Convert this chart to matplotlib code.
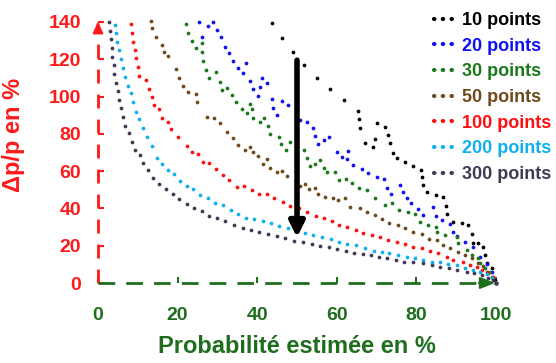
import matplotlib
matplotlib.use('Agg')
import matplotlib.pyplot as plt
from matplotlib.lines import Line2D

plt.rcParams['font.family'] = ['Liberation Sans', 'DejaVu Sans']
plt.rcParams['font.weight'] = 'bold'

# values (x = probabilité %, y = dp/p %)
x10 = [43.6, 46.2, 48.9, 51.8, 55.0, 58.3, 61.8, 65.3, 65.6, 65.8, 67.1, 69.0, 69.6, 70.2, 72.1,
       72.9, 73.4, 74.0, 75.0, 77.1, 79.1, 81.2, 81.5, 81.7, 82.7, 84.9, 86.8, 87.4, 87.8, 89.3,
       91.4, 93.0, 93.9, 94.3, 95.6, 96.8, 97.2, 97.7, 98.9, 99.7, 100]
y10 = [139.3, 131.3, 124.1, 117.0, 110.1, 104.1, 98.2, 92.4, 87.8, 83.0, 75.3, 73.1, 77.1, 85.7, 83.5,
       79.4, 74.9, 69.9, 66.9, 64.8, 62.9, 60.6, 57.0, 52.6, 49.0, 47.2, 46.3, 41.5, 37.0, 32.9,
       32.0, 31.1, 26.1, 21.6, 21.3, 19.5, 15.0, 10.6, 7.9, 1.6, 0]

x20 = [25.5, 26.1, 27.7, 29.0, 30.0, 30.9, 31.9, 33.0, 34.0, 35.3, 36.4, 37.2, 38.2, 38.9, 40.3,
       40.7, 41.1, 42.4, 43.6, 44.0, 44.9, 46.2, 47.8, 50.8, 52.4, 54.1, 54.5, 55.3, 56.8, 58.0,
       60.0, 61.2, 62.9, 62.6, 64.1, 66.3, 67.9, 70.0, 71.9, 72.5, 73.7, 75.9, 76.6, 77.6, 78.6,
       80.5, 81.7, 84.1, 84.9, 86.4, 88.4, 89.1, 90.1, 92.2, 94.3, 96.0, 97.7, 99.1, 100]
y20 = [140.2, 132.1, 137.9, 140.2, 135.7, 131.8, 126.8, 123.2, 119.1, 115.2, 112.5, 118.0, 108.5, 104.1, 100.5,
       105.0, 109.8, 107.1, 98.7, 94.0, 90.1, 97.8, 95.5, 87.4, 86.5, 83.4, 78.9, 74.6, 76.7, 78.2,
       70.4, 67.8, 71.0, 66.4, 63.3, 61.2, 59.0, 57.0, 55.6, 51.0, 48.0, 52.6, 48.6, 45.4, 42.8,
       39.7, 36.5, 40.6, 36.1, 33.8, 31.7, 27.5, 25.4, 22.2, 19.3, 14.1, 10.2, 6.1, 0]

x30 = [22.1, 22.7, 23.5, 24.6, 26.1, 26.1, 26.5, 27.1, 28.0, 29.6, 30.7, 31.1, 32.3, 33.6, 34.7,
       36.1, 37.4, 38.2, 38.6, 39.0, 40.7, 41.8, 42.6, 43.2, 45.6, 46.0, 47.2, 48.2, 51.8, 52.6,
       53.3, 54.5, 55.8, 56.8, 57.6, 59.5, 60.6, 62.3, 63.7, 65.7, 67.5, 69.6, 72.1, 73.8, 75.7,
       78.0, 79.6, 80.9, 83.0, 84.9, 85.3, 87.2, 90.1, 90.5, 92.6, 93.9, 95.6, 96.0, 97.2, 98.5,
       99.3, 100]
y30 = [139.0, 134.3, 130.0, 125.9, 128.6, 124.1, 119.1, 114.3, 109.8, 113.0, 108.0, 103.5, 104.5, 100.9, 96.9,
       93.2, 91.0, 95.9, 93.3, 88.7, 86.5, 88.7, 84.4, 79.9, 78.5, 74.6, 71.4, 75.8, 71.4, 67.2,
       62.9, 63.7, 66.0, 61.5, 59.4, 59.7, 55.3, 55.8, 53.5, 51.1, 49.9, 45.6, 41.8, 42.8, 39.2,
       38.3, 36.9, 32.9, 31.1, 30.2, 27.2, 25.8, 24.8, 21.3, 17.7, 15.0, 13.3, 10.6, 7.9, 6.1,
       2.5, 0]

x50 = [13.3, 13.5, 14.6, 16.0, 16.6, 17.6, 19.6, 20.4, 21.3, 22.6, 24.6, 24.9, 27.3, 29.1, 30.7,
       32.3, 33.8, 35.3, 36.9, 38.2, 39.0, 40.3, 42.4, 41.4, 43.2, 44.9, 46.2, 47.6, 50.8, 52.0,
       53.1, 54.5, 55.4, 57.0, 59.1, 60.4, 62.1, 63.3, 65.8, 67.5, 69.6, 71.3, 73.2, 75.5, 77.1,
       79.2, 81.3, 83.2, 85.3, 86.8, 88.4, 90.5, 92.2, 93.9, 95.6, 96.8, 97.8, 98.9, 100]
y50 = [140.3, 136.6, 132.0, 127.7, 123.8, 121.8, 114.8, 110.1, 105.8, 102.5, 101.2, 97.3, 89.2, 88.5, 85.7,
       81.2, 77.6, 74.0, 71.4, 73.1, 70.1, 68.3, 66.5, 63.7, 61.9, 59.7, 60.2, 57.4, 52.2, 52.9,
       50.3, 51.1, 47.6, 46.0, 45.8, 44.5, 45.4, 40.9, 40.1, 38.3, 36.5, 34.3, 32.0, 31.1, 29.7,
       27.2, 26.1, 23.6, 23.1, 20.4, 18.9, 16.8, 15.0, 13.3, 10.6, 9.3, 6.1, 3.4, 0]

x100 = [8.2, 8.5, 8.8, 9.2, 9.5, 10.0, 10.4, 12.1, 12.8, 13.5, 14.1, 15.4, 16.1, 17.7, 18.3,
        20.2, 22.3, 23.5, 25.1, 26.5, 28.0, 29.6, 31.3, 32.9, 34.8, 36.7, 38.6, 40.5, 42.4, 44.3,
        46.4, 48.2, 50.6, 52.6, 54.7, 56.8, 58.7, 60.6, 62.6, 64.7, 66.7, 68.8, 70.9, 72.9, 75.0,
        77.1, 79.2, 81.3, 83.4, 85.5, 87.6, 89.3, 91.8, 93.5, 95.2, 96.4, 98.1, 99.3, 100]
y100 = [138.9, 134.1, 129.5, 125.0, 120.5, 115.7, 110.8, 108.9, 104.0, 99.8, 95.5, 93.2, 88.7, 86.5, 82.6,
        78.4, 73.5, 70.4, 69.2, 65.1, 64.2, 60.9, 57.9, 55.0, 51.7, 52.0, 49.9, 47.7, 47.6, 45.4,
        43.3, 41.5, 40.1, 37.9, 36.1, 35.0, 33.3, 31.1, 29.9, 28.6, 26.7, 25.8, 24.8, 23.1, 21.8,
        20.8, 19.5, 18.6, 17.2, 15.9, 14.1, 12.3, 11.4, 9.7, 8.7, 7.0, 5.2, 3.4, 0]

x200 = [4.3, 4.5, 4.8, 5.3, 5.7, 6.2, 6.8, 7.5, 8.2, 8.7, 9.5, 10.4, 11.2, 12.4, 13.6,
        14.8, 16.1, 17.5, 19.1, 20.6, 22.3, 23.9, 25.6, 27.6, 29.4, 31.3, 33.3, 35.3, 37.2, 39.3,
        41.4, 43.5, 45.6, 47.8, 50.1, 52.0, 54.1, 56.2, 58.5, 60.6, 62.6, 64.7, 67.1, 69.3, 71.3,
        73.2, 75.5, 77.6, 79.6, 81.7, 83.8, 85.9, 88.0, 90.1, 92.2, 94.3, 96.0, 97.7, 98.9, 100]
y200 = [138.4, 134.0, 129.5, 125.0, 120.0, 115.2, 110.4, 105.7, 101.8, 97.3, 91.9, 87.8, 83.0, 78.5, 73.5,
        67.2, 63.7, 60.6, 58.3, 54.7, 52.0, 50.3, 47.2, 45.8, 43.1, 41.6, 39.2, 36.9, 35.0, 34.3,
        33.4, 32.0, 30.6, 29.3, 28.4, 26.7, 25.8, 24.8, 23.4, 22.2, 20.9, 20.2, 18.6, 17.2, 16.5,
        15.9, 15.0, 14.1, 13.3, 12.3, 11.4, 11.1, 10.0, 9.7, 7.9, 7.0, 6.1, 4.7, 2.8, 0]

x300 = [2.8, 3.0, 3.3, 3.4, 3.6, 3.9, 4.1, 4.5, 4.9, 5.4, 5.9, 6.4, 6.9, 7.9, 8.5,
        9.2, 10.6, 11.2, 12.6, 13.9, 15.4, 17.1, 18.8, 20.4, 22.3, 24.1, 26.1, 28.0, 30.0, 32.0,
        34.2, 36.4, 38.4, 40.5, 42.8, 44.9, 47.0, 49.2, 51.6, 53.7, 55.8, 58.0, 60.1, 62.3, 64.2,
        66.5, 68.5, 70.7, 72.7, 74.9, 77.0, 79.2, 81.6, 83.8, 85.9, 88.3, 90.3, 92.6, 94.5, 96.4,
        98.1, 99.3, 100]
y300 = [140.2, 135.2, 130.7, 125.9, 121.4, 116.7, 112.1, 107.3, 103.0, 98.3, 93.7, 89.1, 84.2, 80.3, 75.8,
        71.6, 68.7, 64.2, 60.6, 56.5, 53.0, 50.3, 47.7, 44.9, 42.2, 40.4, 38.8, 35.9, 34.7, 33.3,
        31.1, 29.3, 28.4, 27.2, 26.1, 25.4, 24.0, 22.7, 21.8, 20.9, 20.0, 19.5, 18.2, 17.2, 16.2,
        15.4, 15.0, 14.1, 13.3, 12.3, 11.4, 11.1, 10.6, 9.7, 8.7, 7.9, 7.0, 6.1, 5.2, 4.3,
        2.8, 1.6, 0]

labels = ['10 points', '20 points', '30 points', '50 points', '100 points', '200 points', '300 points']
colors = ['#000000', '#1010f0', '#1a7a1a', '#6e4a1c', '#ff1010', '#10b0ee', '#403a55']
series = [(x10, y10), (x20, y20), (x30, y30), (x50, y50), (x100, y100), (x200, y200), (x300, y300)]

xticks = [0, 20, 40, 60, 80, 100]
yticks = [0, 20, 40, 60, 80, 100, 120, 140]

red = '#ff1a1a'
green = '#1e6e1e'

fig = plt.figure(figsize=(5.56, 3.63), dpi=100)
ax = fig.add_axes([98 / 556, 80 / 363, 398 / 556, 261 / 363])
ax.set_xlim(0, 100)
ax.set_ylim(0, 140)

for (xs, ys), c in zip(series, colors):
    ax.plot(xs, ys, linestyle='none', marker='o', ms=2.7, mew=0, color=c, clip_on=False)

for s in ax.spines.values():
    s.set_visible(False)

# dashed axes with arrow heads
ax.plot([0, 0], [0, 134], color=red, lw=2, linestyle=(0, (5, 4)), clip_on=False)
ax.annotate('', xy=(0, 142), xytext=(0, 133),
            arrowprops=dict(arrowstyle='-|>,head_width=0.3,head_length=0.7', color=red, lw=1.5),
            annotation_clip=False)
ax.plot([0, 97], [0, 0], color=green, lw=2, linestyle=(0, (6, 4)), clip_on=False)
ax.annotate('', xy=(100.5, 0), xytext=(95, 0),
            arrowprops=dict(arrowstyle='-|>,head_width=0.35,head_length=0.9', color=green, lw=1.5),
            annotation_clip=False)

# big black arrow
ax.annotate('', xy=(50, 23), xytext=(50, 121),
            arrowprops=dict(arrowstyle='-|>,head_width=0.45,head_length=0.9', color='black', lw=4))

ax.set_xticks(xticks)
ax.set_yticks(yticks)
ax.tick_params(axis='y', direction='in', length=4, width=1.5, color=red, labelcolor=red,
               labelsize=14, pad=12)
ax.tick_params(axis='x', direction='in', length=4, width=1.5, color=green, labelcolor=green,
               labelsize=14, pad=17)

ax.set_xlabel('Probabilité estimée en %', color=green, fontsize=17, fontweight='bold', labelpad=8)
ax.set_ylabel('Δp/p en %', color=red, fontsize=17, fontweight='bold')
ax.yaxis.set_label_coords(-0.183, 0.567)

handles = [Line2D([], [], color=c, lw=3, linestyle=(0, (0.1, 2.0)), dash_capstyle='round')
           for c in colors]
fig.legend(handles, labels, loc='upper left', bbox_to_anchor=(434 / 556, 1 - 12 / 363),
           frameon=False, handlelength=1.15, handletextpad=0.4,
           labelspacing=0.48, borderpad=0, borderaxespad=0, labelcolor='linecolor',
           prop={'weight': 'bold', 'size': 13})

fig.savefig('out.png', dpi=100)
